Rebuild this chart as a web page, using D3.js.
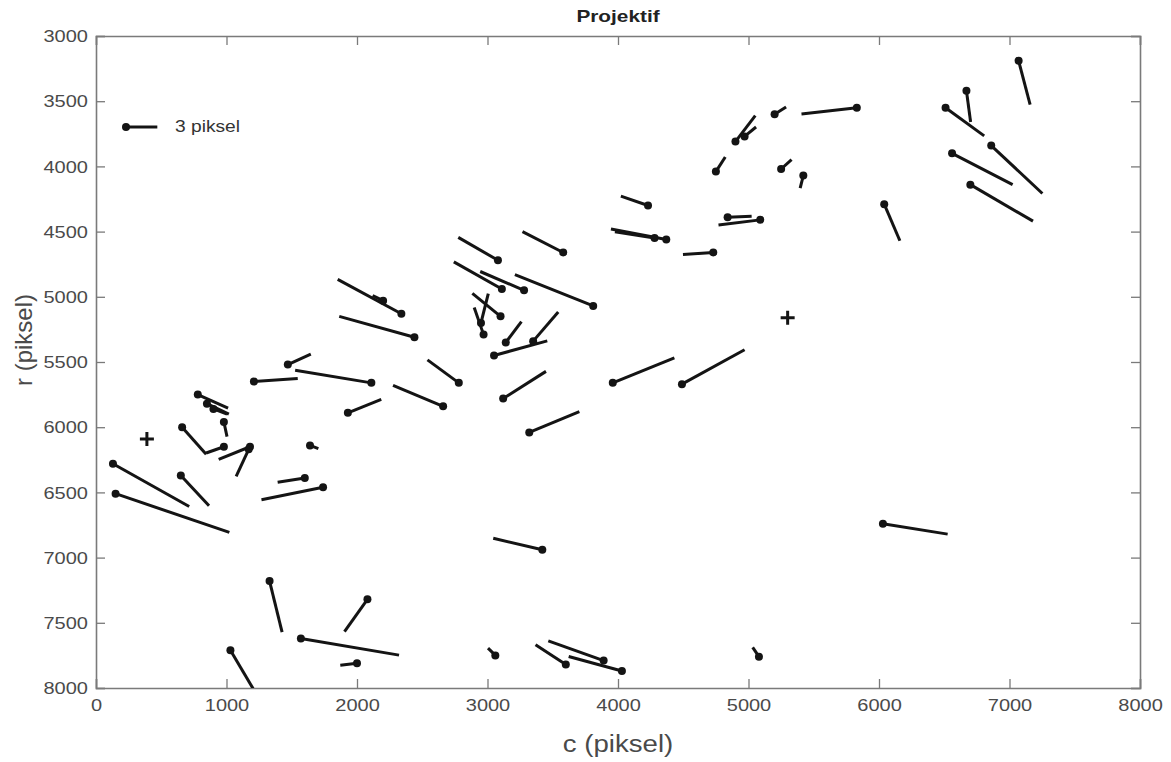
<!doctype html>
<html>
<head>
<meta charset="utf-8">
<script src="https://d3js.org/d3.v7.min.js"></script>
<style>
  body { margin: 0; background: #fff; }
  text { font-family: "Liberation Sans", Arial, sans-serif; }
</style>
</head>
<body>
<svg width="1171" height="762"></svg>
<script>
    // titik kontrol (c, r) dan galat (u, v) dalam piksel
    var colC = [7070, 6670, 6510, 6860, 6560, 6700, 6040, 5830, 5200, 4900, 4970, 4750, 5250, 5420,
                4230, 5090, 4840, 4370, 4280, 4730, 3580, 3080, 3110, 3280, 3810, 3100, 2950, 2970,
                3140, 3050, 3350, 2780, 2340, 2200, 2440, 2660, 2110, 1470, 1210, 1930, 3120, 3320,
                3960, 4490, 780, 850, 900, 980, 660, 980, 1180, 1170, 130, 150, 650, 1600, 1740, 1640,
                3420, 6030, 1330, 2080, 1570, 2000, 1030, 3060, 3600, 3890, 4030, 5080];
    var rowR = [3190, 3420, 3550, 3840, 3900, 4140, 4290, 3550, 3600, 3810, 3770, 4040, 4020, 4070,
                4300, 4410, 4390, 4560, 4550, 4660, 4660, 4720, 4940, 4950, 5070, 5150, 5200, 5290,
                5350, 5450, 5340, 5660, 5130, 5030, 5310, 5840, 5660, 5520, 5650, 5890, 5780, 6040,
                5660, 5670, 5750, 5820, 5860, 5960, 6000, 6150, 6150, 6170, 6280, 6510, 6370, 6390, 6460, 6140,
                6940, 6740, 7180, 7320, 7620, 7810, 7710, 7750, 7820, 7790, 7870, 7760];
    var errU = [1.1, 0.4, 3.7, 4.9, 5.8, 6.0, 1.5, -5.3, 1.1, 1.9, 1.1, 0.9, 1.0, -0.3,
                -2.6, -4.0, 2.3, -5.3, -3.8, -2.9, -3.9, -3.8, -4.6, -4.2, -7.5, -2.7, 0.7, -0.9,
                1.5, 5.1, 2.4, -3.0, -6.1, -1.0, -7.2, -4.8, -7.3, 2.2, 4.2, 3.2, 4.1, 4.8,
                5.9, 6.0, 2.9, 2.1, 1.3, 0.3, 2.3, -1.7, -3.0, -1.2, 7.3, 10.9, 2.7, -2.6, -5.9, 0.8,
                -4.7, 6.2, 1.2, -2.2, 9.4, -1.6, 2.3, -0.7, -2.9, -5.3, -5.1, -0.6];
    var errV = [4.2, 3.0, 2.7, 4.6, 3.0, 3.5, 3.5, 0.6, -0.7, -2.5, -0.9, -1.4, -0.9, 1.2,
                -0.9, 0.5, -0.1, -1.0, -0.6, 0.2, -2.0, -2.2, -2.6, -1.8, -3.0, -2.2, -2.8, -2.6,
                -2.0, -1.4, -2.8, -2.2, -3.3, -0.5, -2.0, -2.0, -1.2, -1.0, -0.3, -1.3, -2.6, -2.0,
                -2.4, -3.3, 1.3, 1.0, 0.5, 1.4, 2.6, 0.6, 1.2, 2.6, 4.1, 3.7, 2.9, 0.4, 1.2, 0.3,
                -1.1, 1.0, 4.9, 3.1, 1.6, 0.2, 3.9, -0.7, -1.9, -1.9, -1.4, -0.9];

    // titik tanda "+"
    var plusC = [5300, 390];
    var plusR = [5160, 6090];

    var xTicks = [0, 1000, 2000, 3000, 4000, 5000, 6000, 7000, 8000];
    var yTicks = [3000, 3500, 4000, 4500, 5000, 5500, 6000, 6500, 7000, 7500, 8000];

    var legendLen = 3;       // piksel
    var quiverScale = 80;    // satuan sumbu per piksel galat

    var svg = d3.select("svg"),
        pLeft = 96, pTop = 36, pRight = 1140, pBottom = 688;

    var xScale = d3.scaleLinear().domain([0, 8000]).range([pLeft, pRight]),
        yScale = d3.scaleLinear().domain([3000, 8000]).range([pTop, pBottom]);

    var axisColor = "#7a7a7a", labelColor = "#4a4a4a", ink = "#141414";

    svg.append("defs").append("clipPath").attr("id", "plotclip")
       .append("rect")
       .attr("x", pLeft).attr("y", pTop)
       .attr("width", pRight - pLeft).attr("height", pBottom - pTop);

    // gambar aslinya agak melebar ke samping
    function stretch(sel, sx) {
        sel.each(function() {
            var t = d3.select(this);
            var x = +t.attr("x") || 0, y = +t.attr("y") || 0;
            t.attr("transform", "translate(" + x + "," + y + ") scale(" + sx + ",1)")
             .attr("x", 0).attr("y", 0);
        });
    }

    // sumbu (tick ke dalam, kotak penuh)
    var gx = svg.append("g").attr("transform", "translate(0," + pBottom + ")")
        .call(d3.axisBottom(xScale).tickValues(xTicks).tickSize(-9).tickPadding(12).tickFormat(d3.format("d")));
    var gxTop = svg.append("g").attr("transform", "translate(0," + pTop + ")")
        .call(d3.axisTop(xScale).tickValues(xTicks).tickSize(-9).tickFormat(""));
    var gy = svg.append("g").attr("transform", "translate(" + pLeft + ",0)")
        .call(d3.axisLeft(yScale).tickValues(yTicks).tickSize(-9).tickPadding(8).tickFormat(d3.format("d")));
    var gyRight = svg.append("g").attr("transform", "translate(" + pRight + ",0)")
        .call(d3.axisRight(yScale).tickValues(yTicks).tickSize(-9).tickFormat(""));

    [gx, gxTop, gy, gyRight].forEach(function(g) {
        g.select(".domain").attr("stroke", axisColor).attr("stroke-width", 1.6);
        g.selectAll(".tick line").attr("stroke", axisColor).attr("stroke-width", 1.3);
        g.selectAll(".tick text").attr("fill", labelColor).attr("font-size", "16px")
         .attr("font-family", "'Liberation Sans', Arial, sans-serif");
    });
    gx.selectAll(".tick text").attr("dy", "0.71em").call(stretch, 1.25);
    gy.selectAll(".tick text").attr("dy", "0.35em").call(stretch, 1.25);

    // garis galat
    var idx = d3.range(colC.length);
    var plot = svg.append("g").attr("clip-path", "url(#plotclip)");

    plot.selectAll(".vec")
        .data(idx)
        .enter().append("line")
        .attr("class", "vec")
        .attr("x1", function(i) { return xScale(colC[i]); })
        .attr("y1", function(i) { return yScale(rowR[i]); })
        .attr("x2", function(i) { return xScale(colC[i] + errU[i] * quiverScale); })
        .attr("y2", function(i) { return yScale(rowR[i] + errV[i] * quiverScale); })
        .attr("stroke", ink)
        .attr("stroke-width", 3);

    plot.selectAll(".pt")
        .data(idx)
        .enter().append("circle")
        .attr("class", "pt")
        .attr("cx", function(i) { return xScale(colC[i]); })
        .attr("cy", function(i) { return yScale(rowR[i]); })
        .attr("r", 4)
        .attr("fill", ink);

    // tanda plus
    plot.selectAll(".plus")
        .data(d3.range(plusC.length))
        .enter().append("path")
        .attr("class", "plus")
        .attr("d", function(i) {
            var cx = xScale(plusC[i]), cy = yScale(plusR[i]), s = 7;
            return "M" + (cx - s) + "," + cy + "H" + (cx + s) + "M" + cx + "," + (cy - s) + "V" + (cy + s);
        })
        .attr("stroke", ink)
        .attr("stroke-width", 3);

    // legenda
    var lg = svg.append("g");
    var lx = 126, ly = 127;
    var lenPx = xScale(legendLen * quiverScale) - xScale(0);
    lg.append("line")
      .attr("x1", lx).attr("y1", ly)
      .attr("x2", lx + lenPx).attr("y2", ly)
      .attr("stroke", ink).attr("stroke-width", 3);
    lg.append("circle").attr("cx", lx).attr("cy", ly).attr("r", 4).attr("fill", ink);
    lg.append("text")
      .attr("x", 175).attr("y", 132)
      .attr("font-size", "16px")
      .attr("fill", "#333")
      .text("3 piksel")
      .call(stretch, 1.2);

    // judul dan label
    svg.append("text")
       .attr("x", 618).attr("y", 22)
       .attr("text-anchor", "middle")
       .attr("font-size", "16px")
       .attr("font-weight", "bold")
       .attr("fill", "#222")
       .text("Projektif")
       .call(stretch, 1.3);

    svg.append("text")
       .attr("x", 618).attr("y", 752)
       .attr("text-anchor", "middle")
       .attr("font-size", "24px")
       .attr("fill", labelColor)
       .text("c (piksel)")
       .call(stretch, 1.15);

    svg.append("text")
       .attr("transform", "translate(32,340) rotate(-90)")
       .attr("text-anchor", "middle")
       .attr("font-size", "24px")
       .attr("fill", labelColor)
       .text("r (piksel)");
</script>
</body>
</html>
